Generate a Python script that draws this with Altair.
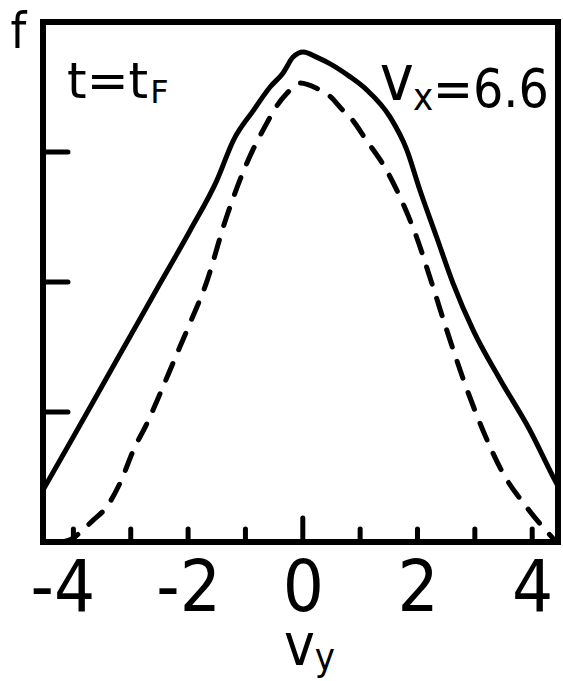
import altair as alt
import pandas as pd

# Distribution f(v_y) at t = t_F for v_x = 6.6
solid_v = [-4.53, -4.0, -3.5, -3.0, -2.5, -1.96, -1.5, -1.21, -0.86, -0.57, -0.34, -0.17,
           0.01, 0.24, 0.47, 0.82, 1.11, 1.52, 1.81, 2.04, 2.33, 2.62, 2.97, 3.44, 3.96, 4.39, 4.45]
solid_f = [0.40, 0.81, 1.20, 1.59, 1.98, 2.40, 2.78, 3.09, 3.32, 3.50, 3.61, 3.73,
           3.77, 3.73, 3.68, 3.58, 3.48, 3.27, 3.02, 2.71, 2.35, 1.99, 1.63, 1.25, 0.86, 0.48, 0.43]

dashed_v = [-4.2, -4.0, -3.87, -3.65, -3.42, -3.18, -2.95, -2.72, -2.49, -2.26, -1.97, -1.70,
            -1.33, -0.98, -0.63, -0.46, -0.28, -0.05, 0.24, 0.47, 0.70, 0.82, 1.11, 1.46, 1.75,
            1.98, 2.25, 2.51, 2.80, 3.14, 3.49, 3.90, 4.42]
dashed_f = [0.0, 0.03, 0.08, 0.17, 0.27, 0.46, 0.71, 0.91, 1.14, 1.38, 1.68, 1.97,
            2.50, 2.91, 3.22, 3.35, 3.45, 3.53, 3.49, 3.43, 3.32, 3.27, 3.09, 2.86, 2.60,
            2.35, 1.99, 1.63, 1.25, 0.86, 0.53, 0.27, 0.0]

x_tick_values = [-4, -3, -2, -1, 0, 1, 2, 3, 4]
x_label_values = [-4, -2, 0, 2, 4]
y_tick_values = [1, 2, 3]

X_MIN, X_MAX = -4.53, 4.45
Y_MIN, Y_MAX = 0.0, 4.0

# inward tick lengths, in data units
X_TICK = 0.10
X_TICK_LONG = 0.185
Y_TICK = 0.435

NARROW = "DejaVu Sans Condensed, DejaVu Sans, sans-serif"
WIDE = "DejaVu Sans, sans-serif"

x_scale = alt.Scale(domain=[X_MIN, X_MAX], nice=False, zero=False)
y_scale = alt.Scale(domain=[Y_MIN, Y_MAX], nice=False, zero=False)

x_axis = alt.Axis(
    values=x_label_values,
    ticks=False,
    tickSize=0,
    domain=False,
    grid=False,
    title=None,
    labelFont=NARROW,
    labelFontSize=72,
    labelColor="black",
    labelBaseline="alphabetic",
    labelPadding=68,
    labelFlush=False,
    labelOverlap=False,
    labelExpr="datum.value < 0 ? '-' + abs(datum.value) : '' + datum.value",
    labelOffset={"condition": {"test": "datum.value === -4", "value": -11}, "value": 0},
)

solid_df = pd.DataFrame({"v": solid_v, "f": solid_f})
dashed_df = pd.DataFrame({"v": dashed_v, "f": dashed_f})

solid = alt.Chart(solid_df).mark_line(
    color="black", strokeWidth=5, interpolate="monotone",
    strokeCap="round", strokeJoin="round", clip=True,
).encode(
    x=alt.X("v:Q", scale=x_scale, axis=x_axis),
    y=alt.Y("f:Q", scale=y_scale, axis=None),
)

dashed = alt.Chart(dashed_df).mark_line(
    color="black", strokeWidth=5, interpolate="monotone",
    strokeCap="round", strokeDash=[18, 15], clip=True,
).encode(
    x=alt.X("v:Q", scale=x_scale),
    y=alt.Y("f:Q", scale=y_scale),
)

xt_df = pd.DataFrame({
    "v": x_tick_values,
    "base": [Y_MIN] * len(x_tick_values),
    "top": [X_TICK_LONG if v == 0 else X_TICK for v in x_tick_values],
})
x_ticks = alt.Chart(xt_df).mark_rule(color="black", strokeWidth=5, strokeCap="round").encode(
    x=alt.X("v:Q", scale=x_scale),
    y=alt.Y("base:Q", scale=y_scale),
    y2="top:Q",
)

yt_df = pd.DataFrame({
    "f": y_tick_values,
    "x0": [X_MIN] * len(y_tick_values),
    "x1": [X_MIN + Y_TICK] * len(y_tick_values),
})
y_ticks = alt.Chart(yt_df).mark_rule(color="black", strokeWidth=5, strokeCap="round").encode(
    y=alt.Y("f:Q", scale=y_scale),
    x=alt.X("x0:Q", scale=x_scale),
    x2="x1:Q",
)

one = pd.DataFrame({"_": [0]})


def label(text, x, y, size, font, align="left"):
    return alt.Chart(one).mark_text(
        text=text, font=font, fontSize=size, color="black",
        align=align, baseline="alphabetic",
    ).encode(x=alt.datum(x), y=alt.datum(y))


annotations = [
    label("t=t", -4.11, 3.415, 50, WIDE),
    label("F", -2.66, 3.377, 32, WIDE),
    label("v", 1.343, 3.40, 64, NARROW),
    label("x", 1.92, 3.323, 38, NARROW),
    label("=6.6", 2.27, 3.346, 53, NARROW),
    label("f", -4.96, 3.80, 50, NARROW, align="center"),
    label("v", -0.328, -0.946, 58, NARROW),
    label("y", 0.21, -0.985, 38, NARROW),
]

chart = alt.layer(solid, dashed, x_ticks, y_ticks, *annotations).properties(
    width=515,
    height=520,
    autosize=alt.AutoSizeParams(type="none"),
    padding={"left": 43, "top": 22, "right": 5, "bottom": 139},
    background="white",
).configure_view(
    stroke="black",
    strokeWidth=6,
)

chart.save("out.html", embed_options={"renderer": "svg", "actions": False})
